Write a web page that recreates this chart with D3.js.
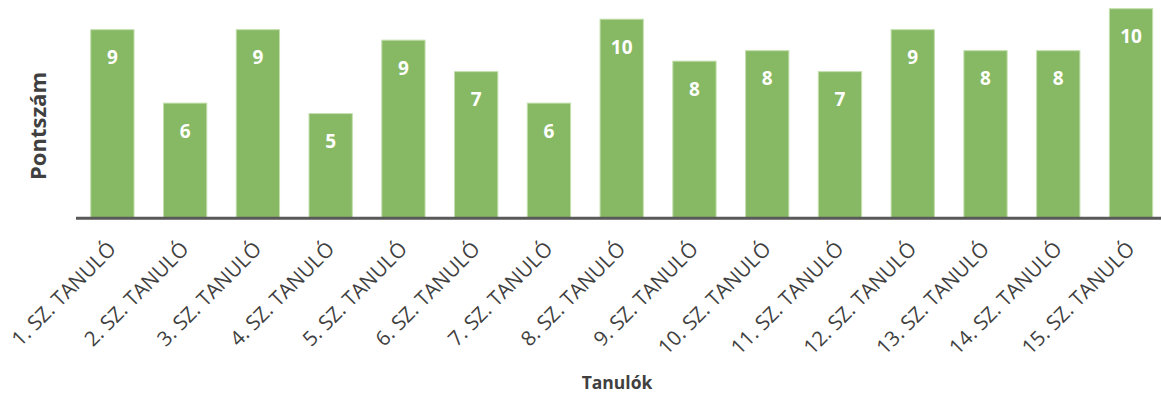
<!DOCTYPE html>
<html>
<head>
<meta charset="utf-8">
<script src="https://cdn.jsdelivr.net/npm/d3@7"></script>
<style>
  html, body { margin: 0; padding: 0; background: #fff; }
  svg { display: block; }
</style>
</head>
<body>
<svg id="chart" width="1161" height="399"></svg>
<script>
// Students and their scores
const students = [
  "1. SZ. TANULÓ", "2. SZ. TANULÓ", "3. SZ. TANULÓ", "4. SZ. TANULÓ", "5. SZ. TANULÓ",
  "6. SZ. TANULÓ", "7. SZ. TANULÓ", "8. SZ. TANULÓ", "9. SZ. TANULÓ", "10. SZ. TANULÓ",
  "11. SZ. TANULÓ", "12. SZ. TANULÓ", "13. SZ. TANULÓ", "14. SZ. TANULÓ", "15. SZ. TANULÓ"
];
const scores = [9, 5.5, 9, 5, 8.5, 7, 5.5, 9.5, 7.5, 8, 7, 9, 8, 8, 10];
const yTitle = "Pontszám";
const xTitle = "Tanulók";

const data = students.map((s, i) => ({ name: s, value: scores[i] }));

const svg = d3.select("#chart");

const x = d3.scaleBand()
  .domain(students)
  .range([76, 1167.4])
  .paddingInner(0.405)
  .paddingOuter(0.2025);

const y = d3.scaleLinear()
  .domain([0, 10])
  .range([218.5, 8.7]);

const fmt = v => String(Math.round(v));

// bars
svg.append("g")
  .selectAll("rect")
  .data(data)
  .join("rect")
  .attr("x", d => x(d.name))
  .attr("y", d => y(d.value))
  .attr("width", x.bandwidth())
  .attr("height", d => y(0) - y(d.value))
  .attr("fill", "#87b964")
  .attr("stroke", "#c3dfae")
  .attr("stroke-width", 1);

// value labels inside the bars
svg.append("g")
  .selectAll("text")
  .data(data)
  .join("text")
  .attr("x", d => x(d.name) + x.bandwidth() / 2)
  .attr("y", d => y(d.value) + 34.5)
  .attr("text-anchor", "middle")
  .attr("font-family", "'Open Sans', sans-serif")
  .attr("font-weight", 700)
  .attr("font-size", 19)
  .attr("fill", "#ffffff")
  .text(d => fmt(d.value));

// category axis
const xAxis = d3.axisBottom(x).tickSize(0).tickSizeOuter(0);
const gx = svg.append("g")
  .attr("transform", `translate(0, ${218.3})`)
  .call(xAxis);

gx.select(".domain")
  .attr("stroke", "#595959")
  .attr("stroke-width", 3)
  .attr("d", `M76,0H1161`);

gx.selectAll(".tick text")
  .attr("font-family", "'Open Sans', sans-serif")
  .attr("font-size", 20.5)
  .attr("fill", "#404040")
  .attr("text-anchor", "end")
  .attr("dy", null)
  .attr("y", 0)
  .attr("transform", "translate(5, 32) rotate(-45)");

// axis titles
svg.append("text")
  .attr("transform", "translate(46, 126) rotate(-90)")
  .attr("text-anchor", "middle")
  .attr("font-family", "'Open Sans', sans-serif")
  .attr("font-weight", 700)
  .attr("font-size", 22)
  .attr("fill", "#404040")
  .text(yTitle);

svg.append("text")
  .attr("x", 617)
  .attr("y", 389)
  .attr("text-anchor", "middle")
  .attr("font-family", "'Open Sans', sans-serif")
  .attr("font-weight", 700)
  .attr("font-size", 17.5)
  .attr("fill", "#404040")
  .text(xTitle);
</script>
</body>
</html>
